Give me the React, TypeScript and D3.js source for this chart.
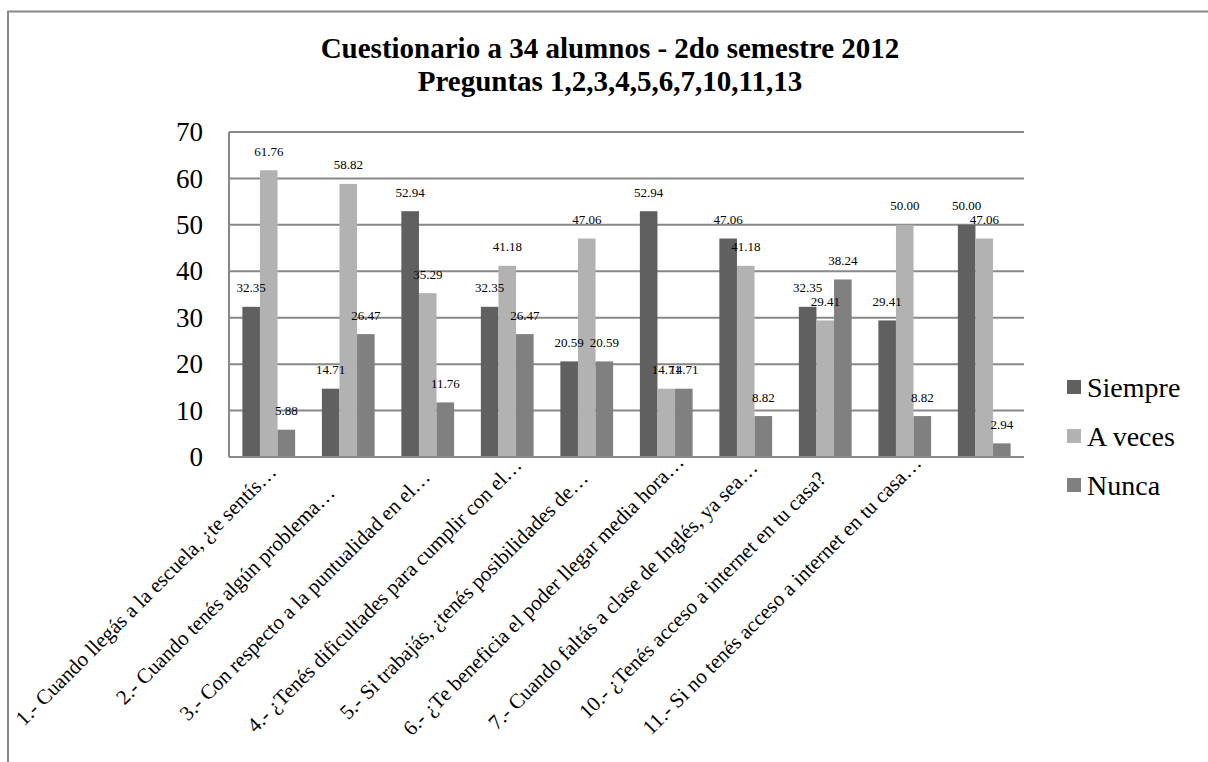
import React from "react";
import * as d3 from "d3";

// Encuesta: porcentajes por pregunta
const categories = [
  "1.- Cuando llegás a la escuela, ¿te sentís…",
  "2.- Cuando tenés algún problema…",
  "3.- Con respecto a la puntualidad en el…",
  "4.- ¿Tenés dificultades para cumplir con el…",
  "5.- Si trabajás, ¿tenés posibilidades de…",
  "6.- ¿Te beneficia el poder llegar media hora…",
  "7.- Cuando faltás a clase de Inglés, ya sea…",
  "10.- ¿Tenés acceso a internet en tu casa?",
  "11.- Si no tenés acceso a internet en tu casa…",
  "",
];
const siempre = [32.35, 14.71, 52.94, 32.35, 20.59, 52.94, 47.06, 32.35, 29.41, 50.0];
const aVeces = [61.76, 58.82, 35.29, 41.18, 47.06, 14.71, 41.18, 29.41, 50.0, 47.06];
const nunca = [5.88, 26.47, 11.76, 26.47, 20.59, 14.71, 8.82, 38.24, 8.82, 2.94];
const seriesNames = ["Siempre", "A veces", "Nunca"];
const yTicks = [0, 10, 20, 30, 40, 50, 60, 70];

const colors: Record<string, string> = {
  Siempre: "#606060",
  "A veces": "#b2b2b2",
  Nunca: "#808080",
};

const W = 1208;
const H = 762;
const FONT = "'Liberation Serif', 'Times New Roman', serif";

if (typeof document !== "undefined") document.body.style.margin = "0";

export default function App() {
  const left = 229;
  const right = 1024;
  const top = 132;
  const bottom = 457;

  const x0 = d3.scaleBand<string>().domain(categories.map((_, i) => String(i))).range([left, right]);
  const x1 = d3.scaleBand<string>().domain(seriesNames).range([0, x0.bandwidth()]).paddingOuter(0.76);
  const y = d3.scaleLinear().domain([0, 70]).range([bottom, top]);

  const values: Record<string, number[]> = {
    Siempre: siempre,
    "A veces": aVeces,
    Nunca: nunca,
  };

  return (
    <svg width={W} height={H} style={{ display: "block" }} fontFamily={FONT}>
      <rect width={W} height={H} fill="#fff" />
      {/* outer frame */}
      <rect x={8} y={11.5} width={1400} height={1000} fill="none" stroke="#888" strokeWidth={2} />

      {/* title */}
      <text x={610} y={58} textAnchor="middle" fontSize={29} fontWeight="bold">
        Cuestionario a 34 alumnos - 2do semestre 2012
      </text>
      <text x={610} y={91} textAnchor="middle" fontSize={29} fontWeight="bold">
        Preguntas 1,2,3,4,5,6,7,10,11,13
      </text>

      {/* gridlines */}
      {yTicks.map((t) => (
        <line key={t} x1={left} x2={right} y1={y(t)} y2={y(t)} stroke="#888" strokeWidth={2} />
      ))}
      <line x1={left} x2={left} y1={top} y2={bottom} stroke="#888" strokeWidth={2} />

      {/* y tick labels */}
      {yTicks.map((t) => (
        <text key={t} x={203} y={y(t)} dy="0.34em" textAnchor="end" fontSize={27}>
          {t}
        </text>
      ))}

      {/* bars */}
      {categories.map((_, i) => (
        <g key={i} transform={`translate(${x0(String(i))},0)`}>
          {seriesNames.map((s) => (
            <rect
              key={s}
              x={x1(s)}
              y={y(values[s][i])}
              width={x1.bandwidth()}
              height={bottom - y(values[s][i])}
              fill={colors[s]}
            />
          ))}
        </g>
      ))}
      <line x1={left} x2={right} y1={bottom} y2={bottom} stroke="#888" strokeWidth={2} />

      {/* data labels */}
      {categories.map((_, i) =>
        seriesNames.map((s) => (
          <text
            key={`${i}-${s}`}
            x={(x0(String(i)) ?? 0) + (x1(s) ?? 0) + x1.bandwidth() / 2}
            y={y(values[s][i]) - 14.5}
            textAnchor="middle"
            fontSize={13}
          >
            {values[s][i].toFixed(2)}
          </text>
        ))
      )}

      {/* category labels */}
      {categories.map((c, i) => {
        const cx = (x0(String(i)) ?? 0) + x0.bandwidth() / 2;
        return (
          <text
            key={i}
            transform={`translate(${cx - 118},${600}) rotate(-45)`}
            textAnchor="middle"
            fontSize={21}
          >
            {c}
          </text>
        );
      })}

      {/* legend */}
      {seriesNames.map((s, i) => (
        <g key={s} transform={`translate(1067,${387 + i * 49})`}>
          <rect x={0} y={-7} width={14} height={14} fill={colors[s]} />
          <text x={20} y={0} dy="0.34em" fontSize={28}>
            {s}
          </text>
        </g>
      ))}
    </svg>
  );
}
